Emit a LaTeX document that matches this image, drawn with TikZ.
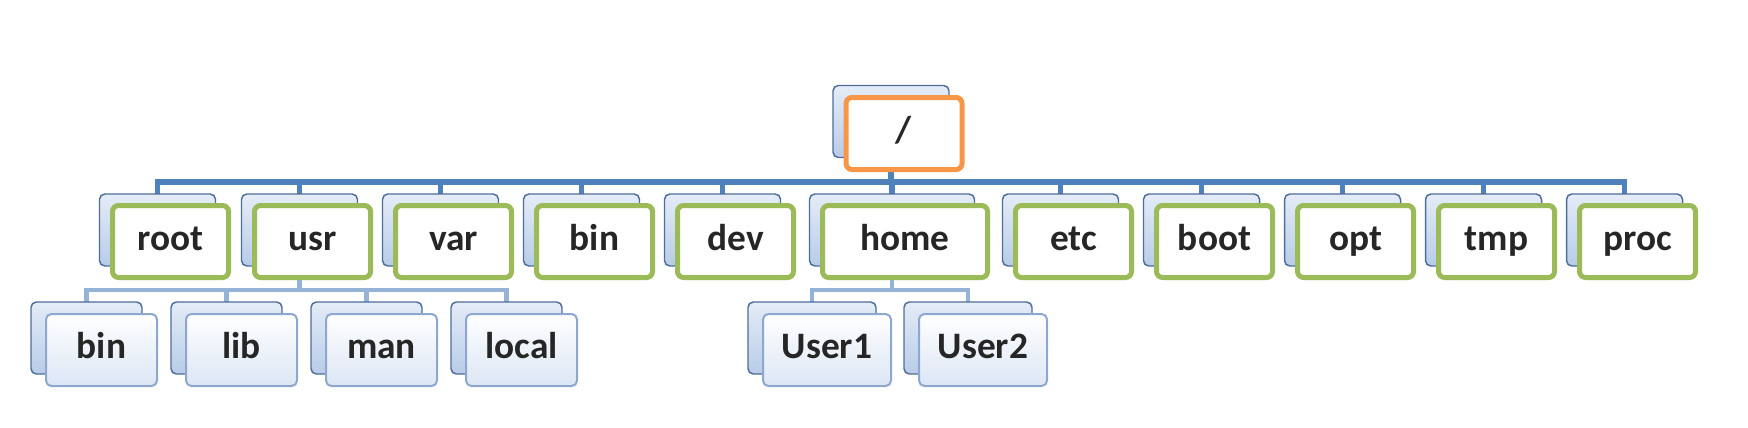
\documentclass[tikz,border=0pt]{standalone}
\usepackage{fontspec}
\setmainfont{Carlito}
\usetikzlibrary{backgrounds}
\definecolor{rootorange}{HTML}{F79646}
\definecolor{dirgreen}{HTML}{9BBB59}
\definecolor{busblue}{HTML}{4F81BD}
\definecolor{subblue}{HTML}{95B3D7}
\definecolor{backedge}{HTML}{4E6D9B}
\definecolor{backtop}{HTML}{E4ECF7}
\definecolor{backbot}{HTML}{B8CCE8}
\definecolor{leafedge}{HTML}{8DA7CF}
\definecolor{leafbot}{HTML}{DCE6F4}
\tikzset{
every node/.style={font=\fontsize{28}{32}\selectfont\bfseries, text=black!85, inner sep=0pt, text height=19pt, text depth=6pt}, % all labels
backbox/.style={draw=backedge, line width=1.1pt, rounded corners=4pt, top color=backtop, bottom color=backbot, minimum width=87pt, minimum height=54pt}, % the box behind
topbox/.style={draw=rootorange, line width=3.75pt, rounded corners=4.5pt, fill=white, minimum width=87pt, minimum height=54pt}, % the / box
dirbox/.style={draw=dirgreen, line width=3.75pt, rounded corners=4.5pt, fill=white, minimum width=87pt, minimum height=54pt}, % second level
leafbox/.style={draw=leafedge, line width=1.5pt, rounded corners=4pt, top color=white, bottom color=leafbot, minimum width=83.25pt, minimum height=54pt}, % third level
bus/.style={draw=busblue, line width=4pt},
subbus/.style={draw=subblue, line width=3.5pt},
}

\begin{document}
\begin{tikzpicture}[x=0.75pt,y=0.75pt,yscale=-1,xscale=1]
\useasboundingbox (0,0) rectangle (1748,428);
%Root
\node[backbox] (slash-b) at (891,121.5) {};
\node[topbox] (slash) at (904,133.5) {/};
%Second level
\node[backbox] (root-b) at (157.5,230) {};
\node[dirbox] (root) at (170.5,241.5) {root};
\node[backbox] (usr-b) at (299.5,230) {};
\node[dirbox] (usr) at (312.5,241.5) {usr};
\node[backbox] (var-b) at (440.5,230) {};
\node[dirbox] (var) at (453.5,241.5) {var};
\node[backbox] (bin-b) at (581.5,230) {};
\node[dirbox] (bin) at (594.5,241.5) {bin};
\node[backbox] (dev-b) at (722.5,230) {};
\node[dirbox] (dev) at (735.5,241.5) {dev};
\node[backbox, minimum width=123.75pt] (home-b) at (892,230) {};
\node[dirbox, minimum width=123.75pt] (home) at (905,241.5) {home};
\node[backbox] (etc-b) at (1060.5,230) {};
\node[dirbox] (etc) at (1073.5,241.5) {etc};
\node[backbox] (boot-b) at (1201.5,230) {};
\node[dirbox] (boot) at (1214.5,241.5) {boot};
\node[backbox] (opt-b) at (1342.5,230) {};
\node[dirbox] (opt) at (1355.5,241.5) {opt};
\node[backbox] (tmp-b) at (1483.5,230) {};
\node[dirbox] (tmp) at (1496.5,241.5) {tmp};
\node[backbox] (proc-b) at (1624.5,230) {};
\node[dirbox] (proc) at (1637.5,241.5) {proc};
%Third level
\node[backbox, minimum width=83.25pt] (usrbin-b) at (86.5,338) {};
\node[leafbox] (usrbin) at (101.5,350) {bin};
\node[backbox, minimum width=83.25pt] (usrlib-b) at (226.5,338) {};
\node[leafbox] (usrlib) at (241.5,350) {lib};
\node[backbox, minimum width=83.25pt] (usrman-b) at (366.5,338) {};
\node[leafbox] (usrman) at (381.5,350) {man};
\node[backbox, minimum width=83.25pt] (usrlocal-b) at (506.5,338) {};
\node[leafbox] (usrlocal) at (521.5,350) {local};
\node[backbox, minimum width=96pt] (user1-b) at (812,338) {};
\node[leafbox, minimum width=96pt] (user1) at (827,350) {User1};
\node[backbox, minimum width=96pt] (user2-b) at (968,338) {};
\node[leafbox, minimum width=96pt] (user2) at (983,350) {User2};
\coordinate (bus) at (891,182);
\coordinate (usrbus) at (299.5,290);
\coordinate (homebus) at (892,290);
%Straight Lines
\begin{scope}[on background layer]
\draw[bus] (root-b.center) |- (bus) -| (proc-b.center);
\draw[bus] (slash-b.center) -- (bus);
\draw[bus] (usr-b.center) -- (usr-b.center |- bus);
\draw[bus] (var-b.center) -- (var-b.center |- bus);
\draw[bus] (bin-b.center) -- (bin-b.center |- bus);
\draw[bus] (dev-b.center) -- (dev-b.center |- bus);
\draw[bus] (home-b.center) -- (home-b.center |- bus);
\draw[bus] (etc-b.center) -- (etc-b.center |- bus);
\draw[bus] (boot-b.center) -- (boot-b.center |- bus);
\draw[bus] (opt-b.center) -- (opt-b.center |- bus);
\draw[bus] (tmp-b.center) -- (tmp-b.center |- bus);
\draw[subbus] (usrbin-b.center) |- (usrbus) -| (usrlocal-b.center);
\draw[subbus] (usr-b.center) -- (usrbus);
\draw[subbus] (usrlib-b.center) -- (usrlib-b.center |- usrbus);
\draw[subbus] (usrman-b.center) -- (usrman-b.center |- usrbus);
\draw[subbus] (user1-b.center) |- (homebus) -| (user2-b.center);
\draw[subbus] (home-b.center) -- (homebus);
\end{scope}
\end{tikzpicture}
\end{document}
